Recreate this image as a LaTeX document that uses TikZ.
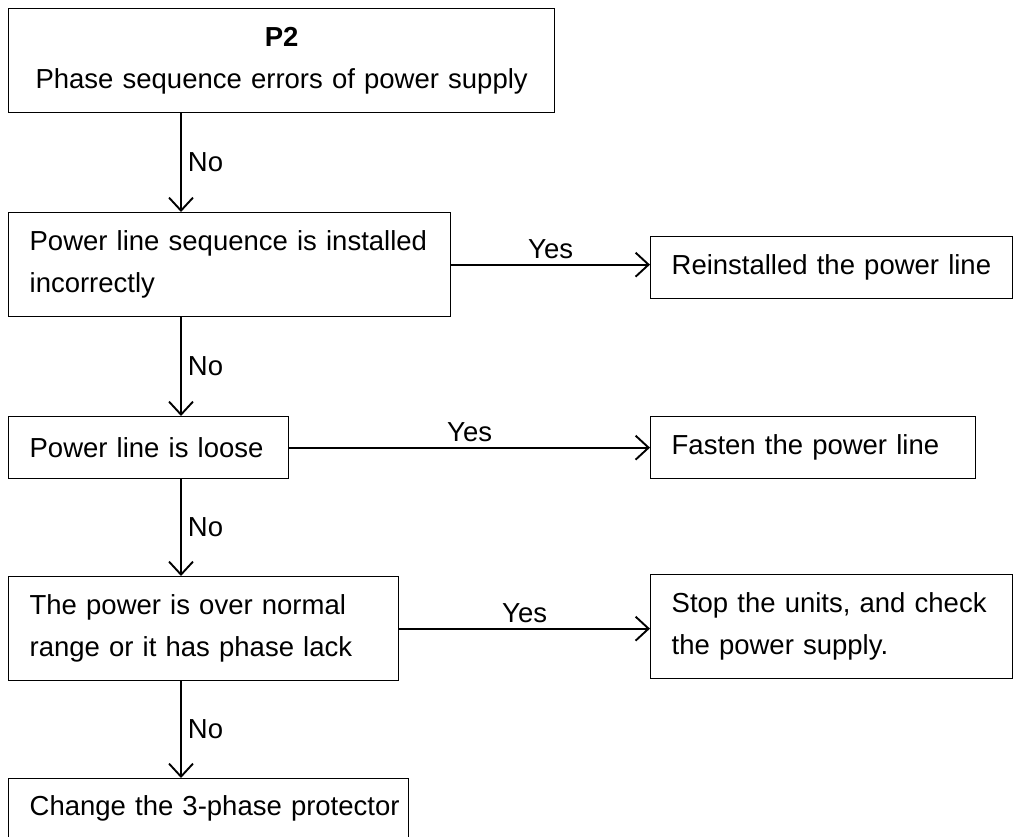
\documentclass[tikz,border=0pt]{standalone}
\usepackage{fontspec}
\setmainfont{Liberation Sans}
\usetikzlibrary{arrows.meta,calc}
\begin{document}
\begin{tikzpicture}[x=1pt,y=-1pt,
  box/.style={draw, line width=1.3pt, anchor=north west, inner xsep=21pt, inner ysep=0pt,
    align=left, font=\fontsize{27.5}{42}\selectfont},
  arr/.style={line width=1.9pt, -{Straight Barb[length=13pt,width=24pt,line width=1.9pt]}},
  lab/.style={font=\fontsize{27.5}{34}\selectfont, inner sep=2pt}]
\clip (0,0) rectangle (1020,836);
\node[box, minimum width=546pt, minimum height=104pt, text width=504pt, align=center] (b1) at (8,8)
  {\textbf{P2}\\\mbox{Phase sequence errors of power supply}};
\node[box, minimum width=442pt, minimum height=104pt, text width=400pt] (b2) at (8,212)
  {\mbox{Power line sequence is installed}\\\mbox{incorrectly}};
\node[box, minimum width=280pt, minimum height=62pt, text width=238pt] (b3) at (8,416)
  {\mbox{Power line is loose}};
\node[box, minimum width=390pt, minimum height=104pt, text width=348pt] (b4) at (8,576)
  {\mbox{The power is over normal}\\\mbox{range or it has phase lack}};
\node[box, minimum width=400pt, minimum height=60pt, text width=358pt] (b5) at (8,778)
  {\mbox{Change the 3-phase protector}};
\node[box, minimum width=362pt, minimum height=62pt, text width=320pt] (r1) at (650,236)
  {\mbox{Reinstalled the power line}};
\node[box, minimum width=325pt, minimum height=62pt, text width=283pt] (r2) at (650,416)
  {\mbox{Fasten the power line}};
\node[box, minimum width=362pt, minimum height=104pt, text width=320pt] (r3) at (650,574)
  {\mbox{Stop the units, and check}\\\mbox{the power supply.}};
% No arrows
\draw[arr] ($(b1.south west)+(173,0)$) -- node[lab, right, midway, xshift=4pt]{No} ($(b2.north west)+(173,0)$);
\draw[arr] ($(b2.south west)+(173,0)$) -- node[lab, right, midway, xshift=4pt]{No} ($(b3.north west)+(173,0)$);
\draw[arr] ($(b3.south west)+(173,0)$) -- node[lab, right, midway, xshift=4pt]{No} ($(b4.north west)+(173,0)$);
\draw[arr] ($(b4.south west)+(173,0)$) -- node[lab, right, midway, xshift=4pt]{No} ($(b5.north west)+(173,0)$);
% Yes arrows
\draw[arr] (b2.east) -- node[lab, above=3pt, midway]{Yes} (b2.east -| r1.west);
\draw[arr] (b3.east) -- node[lab, above=3pt, midway]{Yes} (b3.east -| r2.west);
\draw[arr] (b4.east) -- node[lab, above=3pt, midway]{Yes} (b4.east -| r3.west);
\end{tikzpicture}
\end{document}
